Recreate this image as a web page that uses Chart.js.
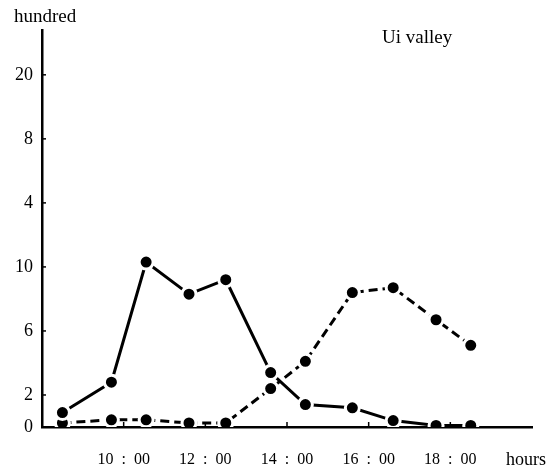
<!DOCTYPE html>
<html lang="en">
<head>
<meta charset="UTF-8" />
<title>Ui valley</title>
<script src="https://cdn.jsdelivr.net/npm/chart.js"></script>
<style>
  html, body { margin: 0; padding: 0; background: #fff; }
  #wrap { width: 560px; height: 468px; }
</style>
</head>
<body>
<div id="wrap"><canvas id="chart" width="560" height="468"></canvas></div>
<script>
const hours = [8.5, 9.7, 10.55, 11.6, 12.5, 13.6, 14.45, 15.6, 16.6, 17.65, 18.5];
const solidValues = [0.9, 2.8, 10.3, 8.3, 9.2, 3.4, 1.4, 1.2, 0.4, 0.1, 0.1];
const dashedValues = [0.25, 0.45, 0.45, 0.25, 0.25, 2.4, 4.1, 8.4, 8.7, 6.7, 5.1];

// axis ticks (labels as printed on the original)
const yTickValues = [0, 2, 6, 10, 14, 18, 22];
const yTickLabels = ['0', '2', '6', '10', '4', '8', '20'];
const xTickValues = [10, 12, 14, 16, 18];
const xTickLabels = ['10\u2002:\u200200', '12\u2002:\u200200', '14\u2002:\u200200', '16\u2002:\u200200', '18\u2002:\u200200'];

const serif = '"Liberation Serif", "DejaVu Serif", serif';

const toPoints = vals => vals.map((v, i) => ({ x: hours[i], y: v }));

const extras = {
  id: 'extras',
  afterDraw(chart) {
    const ctx = chart.ctx;
    const xs = chart.scales.x, ys = chart.scales.y;
    const area = chart.chartArea;
    ctx.save();
    ctx.strokeStyle = '#000';
    ctx.lineWidth = 1.5;
    // small inward tick marks
    yTickValues.forEach(v => {
      const py = ys.getPixelForValue(v);
      ctx.beginPath();
      ctx.moveTo(area.left, py);
      ctx.lineTo(area.left + 4, py);
      ctx.stroke();
    });
    xTickValues.forEach(v => {
      const px = xs.getPixelForValue(v);
      ctx.beginPath();
      ctx.moveTo(px, area.bottom);
      ctx.lineTo(px, area.bottom - 5);
      ctx.stroke();
    });
    ctx.fillStyle = '#000';
    ctx.textBaseline = 'middle';
    ctx.textAlign = 'left';
    ctx.font = '19px ' + serif;
    ctx.fillText('hundred', 14, 17);
    ctx.fillText('Ui valley', 382, 38);
    ctx.font = '18px ' + serif;
    ctx.fillText('hours', 506, 460);
    ctx.restore();
  }
};

new Chart(document.getElementById('chart'), {
  type: 'line',
  data: {
    datasets: [{
      data: toPoints(solidValues),
      borderColor: '#000',
      borderWidth: 3,
      pointRadius: 7,
      pointBorderWidth: 3,
      pointBackgroundColor: '#000',
      pointBorderColor: '#fff',
      tension: 0
    }, {
      data: toPoints(dashedValues),
      borderColor: '#000',
      borderWidth: 3,
      borderDash: [9, 5],
      pointRadius: 7,
      pointBorderWidth: 3,
      pointBackgroundColor: '#000',
      pointBorderColor: '#fff',
      tension: 0
    }]
  },
  options: {
    responsive: false,
    animation: false,
    layout: { padding: { top: 30, right: 28, left: 0, bottom: 0 } },
    plugins: { legend: { display: false }, tooltip: { enabled: false } },
    scales: {
      x: {
        type: 'linear',
        min: 8,
        max: 20,
        afterBuildTicks: s => { s.ticks = xTickValues.map(v => ({ value: v })); },
        afterFit: s => { s.height = 41; },
        grid: { display: false, drawTicks: false },
        border: { color: '#000', width: 2.5 },
        ticks: {
          padding: 23,
          color: '#000',
          font: { family: serif, size: 16 },
          maxRotation: 0,
          callback: v => xTickLabels[xTickValues.indexOf(v)]
        }
      },
      y: {
        min: 0,
        max: 24.8,
        afterBuildTicks: s => { s.ticks = yTickValues.map(v => ({ value: v })); },
        afterFit: s => { s.width = 42; },
        grid: { display: false, drawTicks: false },
        border: { color: '#000', width: 2.5 },
        ticks: {
          padding: 9,
          color: '#000',
          font: { family: serif, size: 18 },
          callback: v => yTickLabels[yTickValues.indexOf(v)]
        }
      }
    }
  },
  plugins: [extras]
});
</script>
</body>
</html>
